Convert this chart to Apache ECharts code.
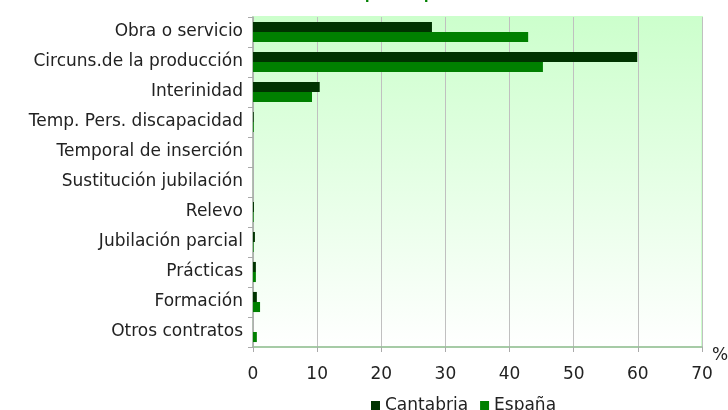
<!DOCTYPE html>
<html><head><meta charset="utf-8">
<script src="https://cdn.jsdelivr.net/npm/echarts@6/dist/echarts.min.js"></script>
<style>html,body{margin:0;padding:0;background:#fff}#c{width:728px;height:410px}</style>
</head><body><div id="c"></div>
<script>
const categories = ["Obra o servicio","Circuns.de la producción","Interinidad","Temp. Pers. discapacidad","Temporal de inserción","Sustitución jubilación","Relevo","Jubilación parcial","Prácticas","Formación","Otros contratos"];
const cantabria = [27.9, 59.9, 10.4, 0.12, 0, 0, 0.15, 0.3, 0.45, 0.6, 0];
const espana = [42.9, 45.2, 9.2, 0.12, 0, 0, 0.1, 0.1, 0.45, 1.1, 0.6];
const xTicks = {min: 0, max: 70, interval: 10};
const FONT = "DejaVu Sans";
const chart = echarts.init(document.getElementById('c'));
chart.setOption({
  animation: false,
  textStyle: {fontFamily: FONT},
  title: {text: "Contratos temporales por modalidad de contrato", left: 255, top: -16,
    textStyle: {color: '#008000', fontSize: 13, fontWeight: 'bold', fontFamily: FONT}},
  legend: {data: ['Cantabria','España'], left: 366, top: 392, icon: 'rect', itemWidth: 9, itemHeight: 9, itemGap: 12,
    textStyle: {fontSize: 17, color: '#222', fontFamily: FONT}},
  grid: {left: 253, right: 26, top: 17, bottom: 63, outerBoundsMode: 'none', containLabel: false,
    show: true, borderWidth: 2, borderColor: '#ccffcc',
    backgroundColor: new echarts.graphic.LinearGradient(0, 0, 0, 1, [
      {offset: 0, color: '#ccffcc'}, {offset: 1, color: '#ffffff'}])},
  xAxis: {type: 'value', min: xTicks.min, max: xTicks.max, interval: xTicks.interval,
    name: '%', nameLocation: 'end', nameGap: 10,
    nameTextStyle: {fontSize: 17, color: '#222', verticalAlign: 'top', padding: [0, 0, 0, 0], lineHeight: 17},
    axisLine: {show: true, lineStyle: {color: '#99bb99', width: 1.5}},
    axisTick: {show: true, length: 5, lineStyle: {color: '#aaa'}},
    axisLabel: {fontSize: 17, color: '#222', margin: 19},
    splitLine: {show: true, lineStyle: {color: '#c0c0c0'}}},
  yAxis: {type: 'category', data: categories, inverse: true,
    axisLine: {show: true, lineStyle: {color: '#aaa', width: 1.5}},
    axisTick: {show: true, length: 5, lineStyle: {color: '#aaa'}},
    axisLabel: {fontSize: 17, color: '#222', margin: 10},
    splitLine: {show: false}},
  series: [
    {name: 'Cantabria', type: 'bar', data: cantabria, barGap: '0%', barCategoryGap: '33%', itemStyle: {color: '#003300'}},
    {name: 'España', type: 'bar', data: espana, itemStyle: {color: '#008000'}}
  ]
});
</script></body></html>
